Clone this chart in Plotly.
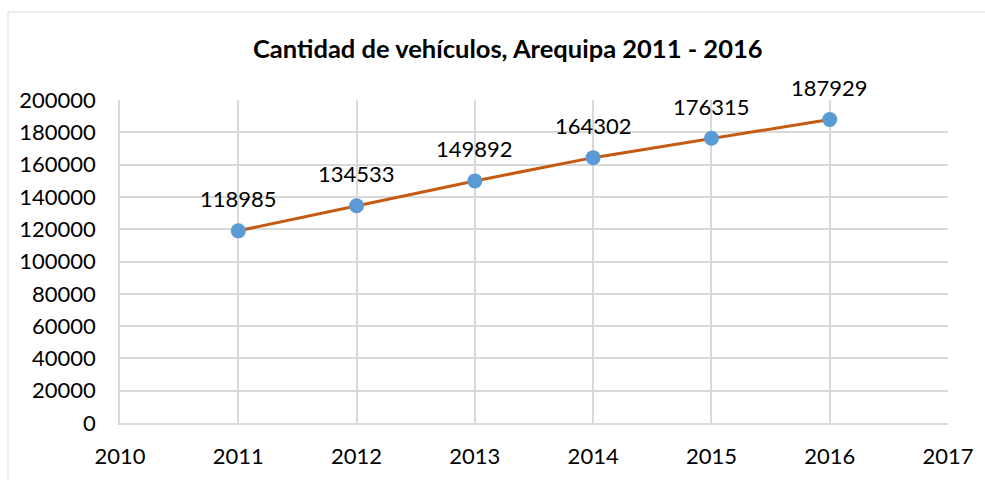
import plotly.graph_objects as go

years = [2011, 2012, 2013, 2014, 2015, 2016]
vehicles = [118985, 134533, 149892, 164302, 176315, 187929]
title_text = "Cantidad de vehículos, Arequipa 2011 - 2016"

W, H = 985, 480
L, R, T, B = 120, 37, 100, 57
pw = W - L - R
ph = H - T - B
FONT = "Lato, Open Sans, sans-serif"

fig = go.Figure()
fig.add_trace(go.Scatter(
    x=years, y=vehicles, mode="lines+markers",
    line=dict(color="#C55A11", width=3),
    marker=dict(color="#5B9BD5", size=15),
    hoverinfo="skip", showlegend=False,
))
for x, y in zip(years, vehicles):
    fig.add_annotation(x=x, y=y, text=str(y), showarrow=False,
                       yshift=32, font=dict(family=FONT, size=22, color="#000"))

fig.add_annotation(xref="paper", yref="paper", x=(508 - L) / pw, y=1 + (T - 48) / ph,
                   xanchor="center", yanchor="middle",
                   text="<b>" + title_text + "</b>", showarrow=False,
                   font=dict(family=FONT, size=25.5, color="#000"))

# chart-area border
fig.add_shape(type="rect", xref="paper", yref="paper",
              x0=(8 - L) / pw, x1=(1010 - L) / pw,
              y0=1 - (490 - T) / ph, y1=1 + (T - 12) / ph,
              line=dict(color="#D9D9D9", width=1), layer="below")

fig.update_layout(
    width=W, height=H, margin=dict(l=L, r=R, t=T, b=B),
    paper_bgcolor="white", plot_bgcolor="white",
    font=dict(family=FONT, size=22, color="#000"),
    xaxis=dict(range=[2010, 2017], dtick=1, tick0=2010, showgrid=True,
               gridcolor="#D9D9D9", gridwidth=1.5, zeroline=False,
               showline=True, linecolor="#D9D9D9", linewidth=1.5,
               ticks="", ticklabelstandoff=13),
    yaxis=dict(range=[0, 200000], dtick=20000, showgrid=True,
               gridcolor="#D9D9D9", gridwidth=1.5, zeroline=False,
               showline=True, linecolor="#D9D9D9", linewidth=1.5,
               ticks="", ticklabelstandoff=18, tickformat="d"),
)
fig.write_html("out.html", config={"displayModeBar": False},
               post_script="document.body.style.margin='0';")
